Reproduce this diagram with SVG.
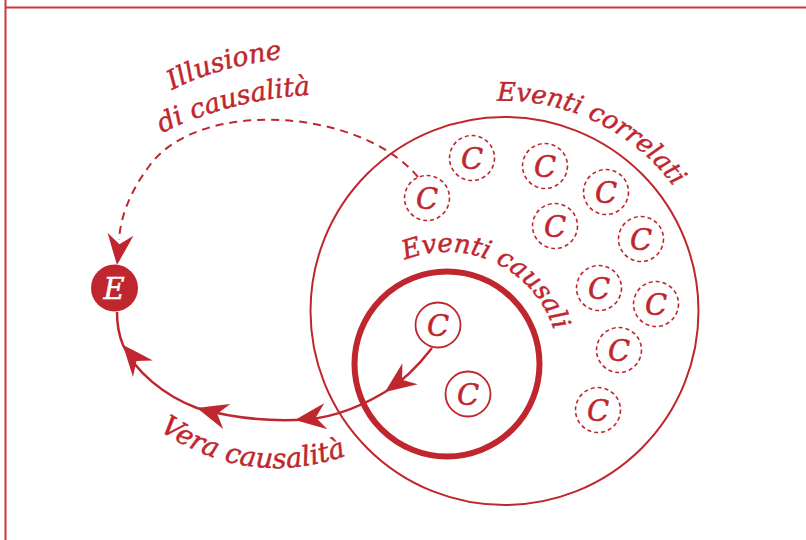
<svg xmlns="http://www.w3.org/2000/svg" width="806" height="540" viewBox="0 0 806 540">
<style>
.lbl{font-family:"DejaVu Serif","Liberation Serif",serif;font-style:italic;font-size:26.5px;fill:#bf262d;stroke:#bf262d;stroke-width:0.45}
.ct{font-family:"DejaVu Serif","Liberation Serif",serif;font-style:italic;font-size:29px;fill:#bf262d;stroke:#bf262d;stroke-width:0.5;text-anchor:middle}
.dc{fill:#fff;stroke:#bf262d;stroke-width:1.6;stroke-dasharray:4 3}
.sc{fill:#fff;stroke:#bf262d;stroke-width:1.8}
.ah{fill:#bf262d}
</style>
<defs>
<path id="ah" d="M0,0 Q-14,-6 -31,-13 L-21,0 L-31,13 Q-14,6 0,0 Z"/>
<path id="p-ill" d="M172,90 Q225,63 300,57"/>
<path id="p-dic" d="M162,133 Q235,97 325,94"/>
<path id="p-corr" d="M497,101 A210,210 0 0 1 702,240"/>
<path id="p-caus" d="M405,260 A112,112 0 0 1 558.6,354.2"/>
<path id="p-vera" d="M159,430 Q258,497 370,446"/>
</defs>
<rect width="806" height="540" fill="#fff"/>
<g id="frame" stroke="#d0363c" stroke-width="2" fill="none">
<line x1="5.5" y1="0" x2="5.5" y2="540"/>
<line x1="5.5" y1="7.5" x2="806" y2="7.5"/>
</g>
<g id="correlati">
<circle cx="504.5" cy="311" r="194" fill="none" stroke="#bf262d" stroke-width="2"/>
<text class="lbl" style="font-size:25.8px"><textPath href="#p-corr">Eventi correlati</textPath></text>
</g>
<g id="causali">
<circle cx="447" cy="364" r="92.5" fill="none" stroke="#bf262d" stroke-width="6"/>
<text class="lbl" style="font-size:26px"><textPath href="#p-caus">Eventi causali</textPath></text>
</g>
<g id="connectors" fill="none" stroke="#bf262d">
<path d="M418,177 C360,108 200,98 150,165 C135,185 121,210 119,240" stroke-width="2" stroke-dasharray="8 6"/>
<path d="M432,348 C415,370 400,383 385,392 C355,410 325,420 295,420 C260,421 225,416 197,408 C165,396 135,372 123,345 C118,333 117,322 117,312" stroke-width="2.5"/>
<g stroke="none" class="ah">
<use href="#ah" transform="translate(117,265) rotate(96.5)"/>
<use href="#ah" transform="translate(385,392) rotate(144)"/>
<use href="#ah" transform="translate(295,420) rotate(173)"/>
<use href="#ah" transform="translate(197,408) rotate(196)"/>
<use href="#ah" transform="translate(123,345) rotate(230)"/>
</g>
</g>
<g id="labels">
<text class="lbl"><textPath href="#p-ill">Illusione</textPath></text>
<text class="lbl"><textPath href="#p-dic">di causalità</textPath></text>
<text class="lbl" style="font-size:27.5px"><textPath href="#p-vera">Vera causalità</textPath></text>
</g>
<g id="node-E">
<circle cx="114.5" cy="288" r="23.5" fill="#bf262d"/>
<text x="114" y="299" font-family="DejaVu Serif, Liberation Serif, serif" font-style="italic" font-size="29" fill="#fff" stroke="#fff" stroke-width="0.5" text-anchor="middle">E</text>
</g>
<g id="c-causal-1"><circle class="sc" cx="438" cy="325" r="22.5"/><text class="ct" x="438" y="335.5">C</text></g>
<g id="c-causal-2"><circle class="sc" cx="468" cy="394" r="22.5"/><text class="ct" x="468" y="404.5">C</text></g>
<g id="c-1"><circle class="dc" cx="427" cy="198" r="22.5"/><text class="ct" x="427" y="208.5">C</text></g>
<g id="c-2"><circle class="dc" cx="472" cy="158" r="22.5"/><text class="ct" x="472" y="168.5">C</text></g>
<g id="c-3"><circle class="dc" cx="545" cy="166" r="22.5"/><text class="ct" x="545" y="176.5">C</text></g>
<g id="c-4"><circle class="dc" cx="606" cy="192" r="22.5"/><text class="ct" x="606" y="202.5">C</text></g>
<g id="c-5"><circle class="dc" cx="555" cy="226" r="22.5"/><text class="ct" x="555" y="236.5">C</text></g>
<g id="c-6"><circle class="dc" cx="641" cy="239" r="22.5"/><text class="ct" x="641" y="249.5">C</text></g>
<g id="c-7"><circle class="dc" cx="599" cy="288" r="22.5"/><text class="ct" x="599" y="298.5">C</text></g>
<g id="c-8"><circle class="dc" cx="656" cy="304" r="22.5"/><text class="ct" x="656" y="314.5">C</text></g>
<g id="c-9"><circle class="dc" cx="619" cy="350" r="22.5"/><text class="ct" x="619" y="360.5">C</text></g>
<g id="c-10"><circle class="dc" cx="598" cy="410" r="22.5"/><text class="ct" x="598" y="420.5">C</text></g>
</svg>
